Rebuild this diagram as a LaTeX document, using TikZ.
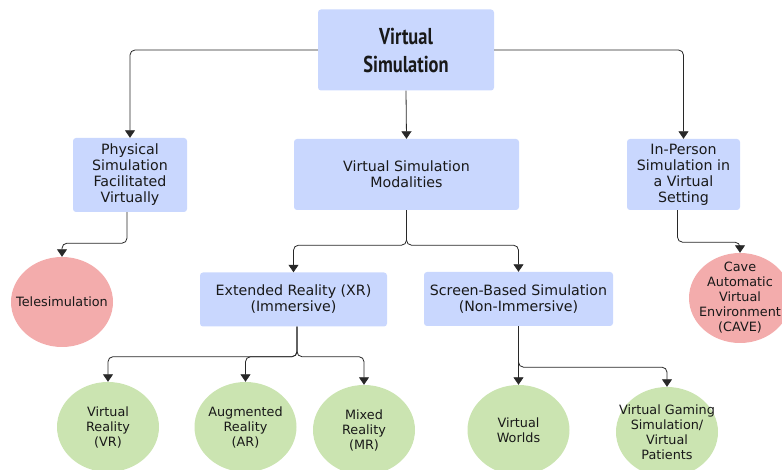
\documentclass[tikz,border=0pt]{standalone}
\usepackage{fontspec}
\setmainfont{DejaVu Sans}
\newfontfamily\titlefont[FakeStretch=0.8]{PT Sans}
\usetikzlibrary{shapes.geometric}
\usetikzlibrary{arrows.meta}
\definecolor{boxblue}{RGB}{201,215,254}
\definecolor{telepink}{RGB}{243,172,172}
\definecolor{leafgreen}{RGB}{203,228,177}
\definecolor{linegray}{RGB}{40,40,40}
\definecolor{textdark}{RGB}{25,25,25}
\tikzset{
  box/.style={rectangle, rounded corners=3pt, fill=boxblue, align=center, text=textdark,
    font=\fontsize{14.2}{16}\selectfont, inner sep=0pt},
  leaftext/.style={align=center, inner sep=0pt, text=textdark,
    font=\fontsize{12.8}{15}\selectfont},
  pinkleaf/.style={ellipse, fill=telepink, inner sep=0pt,
    minimum width=102pt, minimum height=90pt},
  greenleaf/.style={ellipse, fill=leafgreen, inner sep=0pt,
    minimum width=102pt, minimum height=90pt},
  conn/.style={draw=linegray, line width=0.8pt, rounded corners=5pt,
    -{Triangle[width=10pt,length=7.5pt]}}
}

\begin{document}
\begin{tikzpicture}[x=1pt,y=-1pt]
    \useasboundingbox (0,0) rectangle (782,470);
    \node[box, minimum width=176pt, minimum height=81pt,
      font=\titlefont\bfseries\fontsize{23}{28}\selectfont] (top) at (406,50) {Virtual\\Simulation};
    \node[box, minimum width=114pt, minimum height=74pt] (phys) at (130,175)
      {Physical\\Simulation\\Facilitated\\Virtually};
    \node[box, minimum width=225pt, minimum height=71pt] (vsm) at (406.5,174.5)
      {Virtual Simulation\\Modalities};
    \node[box, minimum width=113pt, minimum height=71pt] (inp) at (683.5,174.5)
      {In-Person\\Simulation in\\a Virtual\\Setting};
    \node[box, minimum width=187pt, minimum height=54pt] (xr) at (293.5,299.5)
      {Extended Reality (XR)\\(Immersive)};
    \node[box, minimum width=189pt, minimum height=54pt] (sb) at (518.5,299)
      {Screen-Based Simulation\\(Non-Immersive)};
    \node[pinkleaf, label={[leaftext]center:Telesimulation}] (tele) at (62,302) {};
    \node[pinkleaf, label={[leaftext]center:{Cave\\Automatic\\Virtual\\Environment\\(CAVE)}}] (cave) at (740,298) {};
    \node[greenleaf, label={[leaftext]center:{Virtual\\Reality\\(VR)}}] (vr) at (108,427) {};
    \node[greenleaf, label={[leaftext]center:{Augmented\\Reality\\(AR)}}] (ar) at (245.5,427) {};
    \node[greenleaf, label={[leaftext]center:{Mixed\\Reality\\(MR)}}] (mr) at (364,430) {};
    \node[greenleaf, label={[leaftext]center:{Virtual\\Worlds}}] (vw) at (518.5,430) {};
    \node[greenleaf, label={[leaftext]center:{Virtual Gaming\\Simulation/\\Virtual\\Patients}}] (vg) at (667,432) {};

    \draw[conn] (top.west) -| (phys.north);
    \draw[conn] (top.east) -| (inp.north);
    \draw[conn] (top.south) -- (vsm.north);
    \draw[conn] ([xshift=-3pt]phys.south) -- ++(0,31) -| (tele.north);
    \draw[conn] ([xshift=-6pt]inp.south) -- ++(0,32) -| (cave.north);
    \foreach \kid in {xr,sb}
      \draw[conn] (vsm.south) -- ++(0,35) -| (\kid.north);
    \foreach \kid in {vr,ar,mr}
      \draw[conn] ([xshift=3.5pt]xr.south) -- ++(0,30) -| (\kid.north);
    \draw[conn] (sb.south) -- (vw.north);
    \draw[conn] (sb.south) -- ++(0,41) -| (vg.north);
\end{tikzpicture}
\end{document}
